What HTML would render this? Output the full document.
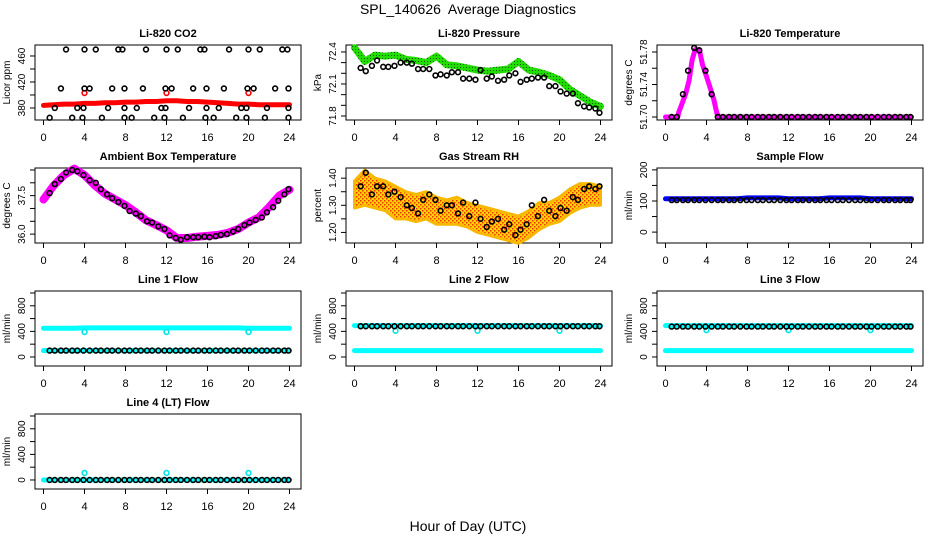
<!DOCTYPE html>
<html><head><meta charset="utf-8">
<style>
html,body{margin:0;padding:0;background:#fff;}
svg{display:block;font-family:"Liberation Sans",Arial,sans-serif;}
</style></head>
<body>
<svg id="chart" width="936" height="540" viewBox="0 0 936 540" xmlns="http://www.w3.org/2000/svg">
<text x="468" y="14" text-anchor="middle" font-size="14" xml:space="preserve">SPL_140626  Average Diagnostics</text>
<text x="468" y="531" text-anchor="middle" font-size="14">Hour of Day (UTC)</text>
</svg>
<script>
// ---------- data ----------
const hours = [0,1,2,3,4,5,6,7,8,9,10,11,12,13,14,15,16,17,18,19,20,21,22,23,24];
const xTicks = [0,4,8,12,16,20,24];
const blackT = [0.6,1.1,1.7,2.2,2.8,3.3,3.9,4.5,5.1,5.6,6.2,6.7,7.3,7.9,8.4,9.0,9.5,10.1,10.6,11.2,11.8,12.3,12.9,13.4,14.0,14.6,15.1,15.7,16.2,16.8,17.3,17.9,18.5,19.0,19.6,20.1,20.7,21.3,21.8,22.4,22.9,23.5,23.9];
const outlierT = [4,12,20];

// CO2
const co2Red = [384,385,386,386,387,387,388,388,389,389,390,390,391,391,390,390,389,388,387,386,386,385,385,385,385];
const co2RedOut = [403,403,403];
const co2Levels = [470,410,380,365];
const co2LevelTimes = [
 [2.2,4,5.1,7.3,7.7,10,12,13.1,15.3,15.7,18.1,20,21.1,23.3,23.8],
 [1.7,4,4.5,6.7,7.9,9.7,11.9,12.5,14.6,15.9,17.6,19.9,20.5,22.6,23.9],
 [1.1,3.3,3.9,6.3,7.9,9.1,11.5,11.9,14.2,15.9,17.1,19.3,19.8,21.8,23.9],
 [0.6,2.8,3.8,5.7,7.9,8.6,10.8,11.8,13.6,15.8,16.6,18.8,19.8,21.6,23.9]];

// Pressure
const pressGreen = [72.44,72.31,72.37,72.36,72.37,72.33,72.32,72.30,72.36,72.28,72.27,72.25,72.23,72.22,72.23,72.24,72.31,72.23,72.21,72.18,72.14,72.05,71.99,71.93,71.89];
const pressBlack = [72.25,72.22,72.27,72.32,72.26,72.26,72.27,72.30,72.30,72.29,72.24,72.24,72.24,72.18,72.19,72.18,72.21,72.21,72.15,72.15,72.14,72.23,72.15,72.17,72.13,72.14,72.18,72.20,72.12,72.14,72.15,72.16,72.16,72.08,72.08,72.03,72.01,72.01,71.92,71.89,71.88,71.87,71.83];

// Li-820 temperature
const tempT = [0,1.2,1.3,1.6,2.0,2.3,2.6,2.9,3.3,3.6,4.0,4.3,4.7,5.0,5.2,24];
const tempMag = [51.700,51.700,51.706,51.716,51.730,51.745,51.770,51.783,51.783,51.765,51.750,51.738,51.722,51.705,51.700,51.700];
const tempBlack = [51.700,51.700,51.728,51.757,51.785,51.782,51.757,51.728,51.700,51.700,51.700,51.700,51.700,51.700,51.700,51.700,51.700,51.700,51.700,51.700,51.700,51.700,51.700,51.700,51.700,51.700,51.700,51.700,51.700,51.700,51.700,51.700,51.700,51.700,51.700,51.700,51.700,51.700,51.700,51.700,51.700,51.700,51.700];

// Ambient box temperature
const ambMag = [37.35,37.9,38.3,38.55,38.3,37.9,37.57,37.35,37.13,36.85,36.54,36.35,36.15,35.85,35.85,35.9,35.93,35.97,36.05,36.2,36.45,36.65,37.05,37.5,37.73];
const ambBlack = [37.6,37.95,38.15,38.4,38.5,38.45,38.3,38.1,38.0,37.75,37.55,37.4,37.25,37.1,36.9,36.8,36.7,36.5,36.45,36.3,36.2,35.95,35.85,35.78,35.88,35.88,35.88,35.9,35.88,35.92,35.97,36.0,36.1,36.2,36.35,36.45,36.55,36.65,36.85,37.05,37.3,37.55,37.75];

// Gas stream RH
const rhLow = [1.29,1.30,1.29,1.28,1.25,1.25,1.24,1.25,1.23,1.23,1.23,1.22,1.20,1.19,1.18,1.17,1.16,1.18,1.21,1.23,1.24,1.27,1.29,1.30,1.30];
const rhHigh = [1.39,1.43,1.40,1.39,1.37,1.35,1.34,1.35,1.33,1.32,1.33,1.31,1.30,1.29,1.28,1.27,1.26,1.28,1.31,1.31,1.33,1.36,1.38,1.38,1.37];
const rhBlack = [1.37,1.42,1.34,1.37,1.37,1.34,1.35,1.33,1.30,1.29,1.27,1.32,1.34,1.32,1.28,1.30,1.30,1.27,1.31,1.26,1.31,1.25,1.22,1.24,1.25,1.21,1.23,1.19,1.21,1.23,1.30,1.26,1.32,1.28,1.26,1.29,1.28,1.33,1.32,1.36,1.37,1.36,1.37];

// Sample flow
const sampleBlue = [107,107,107,107,107,107,107,107,110,110,110,110,107,107,107,107,110,110,110,110,107,107,107,107,107];
const sampleBlack = [103,103,103,103,103,103,103,103,103,103,103,103,103,103,103,103,103,103,103,103,103,103,103,103,103,103,103,103,103,103,103,103,103,103,103,103,103,103,103,103,103,103,103];

// Line flows
const line1Upper = [450,450,450,450,455,455,455,455,455,455,455,455,455,455,455,455,455,455,455,455,450,450,450,450,450];
const line1Lower = [100,100,100,100,100,100,100,100,100,100,100,100,100,100,100,100,100,100,100,100,100,100,100,100,100];
const line1Black = [100,100,100,100,100,100,100,100,100,100,100,100,100,100,100,100,100,100,100,100,100,100,100,100,100,100,100,100,100,100,100,100,100,100,100,100,100,100,100,100,100,100,100];
const line1Out = [390,390,390];
const line2Upper = [490,490,490,490,490,490,490,490,490,490,490,490,490,490,490,490,490,490,490,490,490,490,490,490,490];
const line2Lower = [100,100,100,100,100,100,100,100,100,100,100,100,100,100,100,100,100,100,100,100,100,100,100,100,100];
const line2Black = [480,480,480,480,480,480,480,480,480,480,480,480,480,480,480,480,480,480,480,480,480,480,480,480,480,480,480,480,480,480,480,480,480,480,480,480,480,480,480,480,480,480,480];
const line2Out = [410,410,410];
const line3Upper = [490,490,490,490,490,490,490,490,490,490,490,490,490,490,490,490,490,490,490,490,490,490,490,490,490];
const line3Lower = [100,100,100,100,100,100,100,100,100,100,100,100,100,100,100,100,100,100,100,100,100,100,100,100,100];
const line3Black = [475,475,475,475,475,475,475,475,475,475,475,475,475,475,475,475,475,475,475,475,475,475,475,475,475,475,475,475,475,475,475,475,475,475,475,475,475,475,475,475,475,475,475];
const line3Out = [420,420,420];
const line4Cyan = [0,0,0,0,0,0,0,0,0,0,0,0,0,0,0,0,0,0,0,0,0,0,0,0,0];
const line4Black = [0,0,0,0,0,0,0,0,0,0,0,0,0,0,0,0,0,0,0,0,0,0,0,0,0,0,0,0,0,0,0,0,0,0,0,0,0,0,0,0,0,0,0];
const line4Out = [110,110,110];

// ticks
const co2Ticks=[380,400,420,440,460], co2Labels=["380","","420","","460"];
const pressTicks=[71.8,71.9,72.0,72.1,72.2,72.3,72.4], pressLabels=["71.8","","","72.1","","","72.4"];
const tempTicks=[51.70,51.72,51.74,51.76,51.78], tempLabels=["51.70","","51.74","","51.78"];
const ambTicks=[36.0,36.5,37.0,37.5,38.0,38.5], ambLabels=["36.0","","","37.5","",""];
const rhTicks=[1.20,1.25,1.30,1.35,1.40], rhLabels=["1.20","","1.30","","1.40"];
const sampleTicks=[0,50,100,150,200], sampleLabels=["0","","100","","200"];
const flowTicks=[0,200,400,600,800,1000], flowLabels=["0","","400","","800",""];

// ---------- drawing ----------
const NS="http://www.w3.org/2000/svg";
const svg=document.getElementById("chart");
function mk(tag,attrs,parent){const e=document.createElementNS(NS,tag);for(const k in attrs)e.setAttribute(k,attrs[k]);(parent||svg).appendChild(e);return e;}

function makePanel(col,row,title,ylab,ymin,ymax,ticks,labels,name){
  const L=35+col*311, R=L+266, T=45+row*123, B=T+75;
  const p={L,R,T,B,ymin,ymax};
  p.x=t=>L+8.5+t*(246/24);
  p.y=v=>B-(v-ymin)/(ymax-ymin)*(B-T);
  const g=mk("g",{});
  
  
  p.g=g;
  const tt=mk("text",{x:(L+R)/2,y:T-8,"text-anchor":"middle","font-size":"11","font-weight":"bold"},g);
  tt.textContent=title;
  
  
  const box=mk("rect",{x:L,y:T,width:R-L,height:B-T,fill:"none",stroke:"#000","stroke-width":"1"},g);
  
  
  const xa=mk("g",{},g);
  
  
  xTicks.forEach(t=>{
    mk("line",{x1:p.x(t),x2:p.x(t),y1:B,y2:B+5,stroke:"#000"},xa);
    const lb=mk("text",{x:p.x(t),y:B+21,"text-anchor":"middle","font-size":"11"},xa);
    lb.textContent=String(t);
  });
  const ya=mk("g",{},g);
  
  
  ticks.forEach((v,i)=>{
    const yy=p.y(v);
    mk("line",{x1:L-5,x2:L,y1:yy,y2:yy,stroke:"#000"},ya);
    if(labels[i]){
      const lb=mk("text",{x:0,y:0,"text-anchor":"middle","font-size":"10",transform:`translate(${L-10},${yy}) rotate(-90)`},ya);
      lb.textContent=labels[i];
    }
  });
  const yt=mk("text",{x:0,y:0,"text-anchor":"middle","font-size":"10",transform:`translate(${L-25},${(T+B)/2}) rotate(-90)`},g);
  yt.textContent=ylab;
  
  
  const clip=mk("clipPath",{id:"clip-"+name},g);
  mk("rect",{x:L,y:T-4,width:R-L,height:B-T+8},clip);
  p.data=mk("g",{"clip-path":`url(#clip-${name})`},g);
  return p;
}
function band(p,ts,vs,color,w,name){
  const pts=ts.map((t,i)=>p.x(t).toFixed(1)+","+p.y(vs[i]).toFixed(1)).join(" ");
  const e=mk("polyline",{points:pts,fill:"none",stroke:color,"stroke-width":w,"stroke-linejoin":"round","stroke-linecap":"round"},p.data);
  
  
}
function circles(p,ts,vs,color,name,r,sw){
  const g=mk("g",{},p.data);
  
  
  ts.forEach((t,i)=>{
    const c=mk("circle",{cx:p.x(t),cy:p.y(vs[i]),r:r||2.4,fill:"none",stroke:color,"stroke-width":sw||1.6},g);
    
    
  });
}

// patterns
const defs=mk("defs",{});
const pat=mk("pattern",{id:"rhpat",width:"4",height:"4",patternUnits:"userSpaceOnUse"},defs);
mk("rect",{x:0,y:0,width:4,height:4,fill:"#ffd200"},pat);
mk("rect",{x:0,y:0,width:1.5,height:1.5,fill:"#f03000"},pat);
mk("rect",{x:2,y:2,width:1.5,height:1.5,fill:"#f03000"},pat);
const gpat=mk("pattern",{id:"gpat",width:"3",height:"3",patternUnits:"userSpaceOnUse"},defs);
mk("rect",{x:0,y:0,width:3,height:3,fill:"#22dd00"},gpat);
mk("rect",{x:1,y:1,width:1,height:1,fill:"#0a5a00"},gpat);

// CO2
let p=makePanel(0,0,"Li-820 CO2","Licor ppm",361.5,476.9,co2Ticks,co2Labels,"co2");
band(p,hours,co2Red,"#ff0000",5,"co2-red-series");
circles(p,outlierT,co2RedOut,"#ff0000","co2-red-outliers");
co2Levels.forEach((lv,k)=>circles(p,co2LevelTimes[k],co2LevelTimes[k].map(()=>lv),"#000","co2-black-level-"+k));

// Pressure
p=makePanel(1,0,"Li-820 Pressure","kPa",71.7625,72.465,pressTicks,pressLabels,"pressure");
band(p,hours,pressGreen,"url(#gpat)",7,"pressure-green-series");
circles(p,blackT,pressBlack,"#000","pressure-black-means");

// Li-820 temperature
p=makePanel(2,0,"Li-820 Temperature","degrees C",51.6963,51.7886,tempTicks,tempLabels,"li820-temp");
band(p,tempT,tempMag,"#ff00ff",5,"li820-temp-magenta-series");
circles(p,blackT,tempBlack,"#000","li820-temp-black-means");

// Ambient
p=makePanel(0,1,"Ambient Box Temperature","degrees C",35.654,38.577,ambTicks,ambLabels,"ambient-temp");
band(p,hours,ambMag,"#ff00ff",8,"ambient-magenta-series");
circles(p,blackT,ambBlack,"#000","ambient-black-means");

// RH
p=makePanel(1,1,"Gas Stream RH","percent",1.161,1.4375,rhTicks,rhLabels,"rh");
{
  const up=hours.map((t,i)=>p.x(t).toFixed(1)+","+p.y(rhHigh[i]).toFixed(1));
  const dn=hours.map((t,i)=>p.x(t).toFixed(1)+","+p.y(rhLow[i]).toFixed(1)).reverse();
  const poly=mk("polygon",{points:up.concat(dn).join(" "),fill:"url(#rhpat)",stroke:"#f8b800","stroke-width":"3","stroke-linejoin":"round"},p.data);
  
  
}
circles(p,blackT,rhBlack,"#000","rh-black-means");

// Sample flow
p=makePanel(2,1,"Sample Flow","ml/min",-35,206,sampleTicks,sampleLabels,"sample-flow");
band(p,hours,sampleBlue,"#0000ff",5,"sample-flow-blue-series");
circles(p,blackT,sampleBlack,"#000","sample-flow-black-means");

// Line flows
p=makePanel(0,2,"Line 1 Flow","ml/min",-141,1031,flowTicks,flowLabels,"line1-flow");
band(p,hours,line1Upper,"#00ffff",5,"line1-cyan-upper");
band(p,hours,line1Lower,"#00ffff",5,"line1-cyan-lower");
circles(p,outlierT,line1Out,"#00e5e5","line1-cyan-outliers");
circles(p,blackT,line1Black,"#000","line1-black-means");

p=makePanel(1,2,"Line 2 Flow","ml/min",-141,1031,flowTicks,flowLabels,"line2-flow");
band(p,hours,line2Upper,"#00ffff",5,"line2-cyan-upper");
band(p,hours,line2Lower,"#00ffff",5,"line2-cyan-lower");
circles(p,outlierT,line2Out,"#00e5e5","line2-cyan-outliers");
circles(p,blackT,line2Black,"#000","line2-black-means");

p=makePanel(2,2,"Line 3 Flow","ml/min",-141,1031,flowTicks,flowLabels,"line3-flow");
band(p,hours,line3Upper,"#00ffff",5,"line3-cyan-upper");
band(p,hours,line3Lower,"#00ffff",5,"line3-cyan-lower");
circles(p,outlierT,line3Out,"#00e5e5","line3-cyan-outliers");
circles(p,blackT,line3Black,"#000","line3-black-means");

p=makePanel(0,3,"Line 4 (LT) Flow","ml/min",-141,1031,flowTicks,flowLabels,"line4-flow");
band(p,hours,line4Cyan,"#00ffff",5,"line4-cyan-series");
circles(p,outlierT,line4Out,"#00e5e5","line4-cyan-outliers");
circles(p,blackT,line4Black,"#000","line4-black-means");
</script>
</body></html>
